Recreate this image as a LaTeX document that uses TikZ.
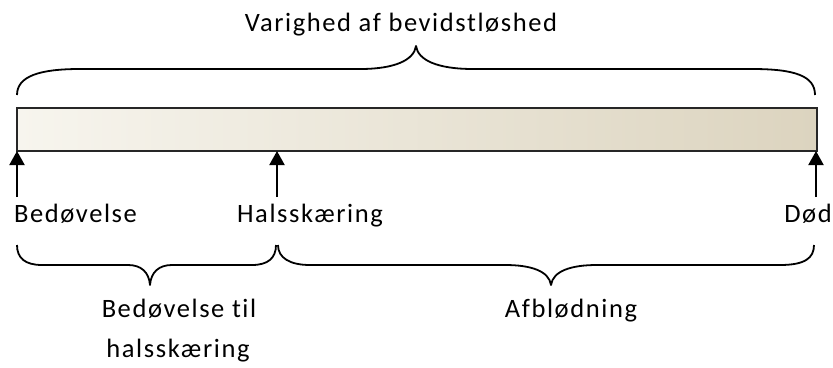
\documentclass[tikz,border=0pt]{standalone}
\usepackage{fontspec}
\setmainfont{Carlito}[LetterSpace=6, Ligatures={NoCommon}]
\usetikzlibrary{arrows.meta}
\definecolor{barL}{HTML}{F7F5EE}
\definecolor{barR}{HTML}{DCD4BF}
\definecolor{barB}{HTML}{262626}
\tikzset{
  lbl/.style={anchor=base, inner sep=0pt, font=\fontsize{26.5}{30}\selectfont},
  brc/.style={draw=black, line width=1.8pt, line join=round},
  arr/.style={draw=black, line width=2pt, -{Triangle[width=15pt,length=14pt]}},
}
\begin{document}
\begin{tikzpicture}[x=1pt,y=-1pt]
\useasboundingbox (0,0) rectangle (833,367);
% bar
\path[left color=barL, right color=barR, draw=barB, line width=1.6pt]
  (17,108) rectangle (817,151);
\coordinate (bl) at (17,151);
\coordinate (bm) at (277,151);
\coordinate (br) at (816,151);
\coordinate (tl) at (17,197);
\coordinate (tm) at (277,197);
\coordinate (tr) at (816,197);
\draw[arr] (tl) -- (bl);
\draw[arr] (tm) -- (bm);
\draw[arr] (tr) -- (br);
% top brace
\draw[brc] (17,95) .. controls (17,76) and (40,69) .. (80,69) -- (360,69)
  .. controls (395,69) and (414,60) .. (416,46)
  .. controls (418,60) and (437,69) .. (473,69) -- (752,69)
  .. controls (795,69) and (815,76) .. (815,95);
% bottom brace 1
\draw[brc] (17,245) .. controls (17,258) and (25,265) .. (42,265) -- (128,265)
  .. controls (141,265) and (149,272) .. (150,285)
  .. controls (151,272) and (159,265) .. (172,265) -- (252,265)
  .. controls (268,265) and (276,258) .. (276,245);
% bottom brace 2
\draw[brc] (278,245) .. controls (278,258) and (290,265) .. (310,265) -- (505,265)
  .. controls (531,265) and (549,271) .. (551,285)
  .. controls (553,271) and (571,265) .. (597,265) -- (780,265)
  .. controls (805,265) and (814,258) .. (814,245);
% labels
\node[lbl] (title) at (401,31) {Varighed af bevidstløshed};
\node[lbl, anchor=base west] (bed) at (14,222) {Bedøvelse};
\node[lbl] (hals) at (310,222) {Halsskæring};
\node[lbl, anchor=base east] (dod) at (832,222) {Død};
\node[lbl] (bth1) at (179,317) {Bedøvelse til};
\node[lbl] (bth2) at (178,357) {halsskæring};
\node[lbl] (afb) at (571,317) {Afblødning};
\end{tikzpicture}
\end{document}
